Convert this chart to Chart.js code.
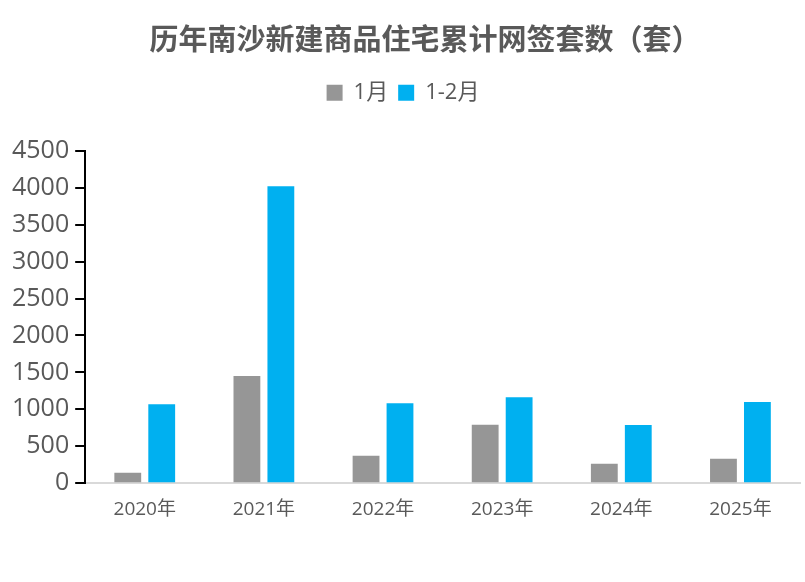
<!DOCTYPE html>
<html>
<head>
<meta charset="utf-8">
<script src="https://cdn.jsdelivr.net/npm/chart.js@4/dist/chart.umd.min.js"></script>
<style>
  html, body { margin: 0; padding: 0; background: #fff; }
  #wrap { width: 805px; height: 582px; position: relative; }
</style>
</head>
<body>
<div id="wrap"><canvas id="chart"></canvas></div>
<script>
// 历年南沙新建商品住宅累计网签套数
const years = ['2020年', '2021年', '2022年', '2023年', '2024年', '2025年'];
const janSales = [140, 1450, 370, 790, 262, 330];
const janFebSales = [1070, 4020, 1082, 1165, 788, 1098];
const yTicks = [0, 500, 1000, 1500, 2000, 2500, 3000, 3500, 4000, 4500];

const font = '"Open Sans", "Noto Sans CJK SC", sans-serif';
const cjkFont = '"Noto Sans CJK SC", sans-serif';
const textColor = '#595959';

// extra room under the legend, title nudged right like the original
const layoutTweaks = {
  id: 'layoutTweaks',
  beforeInit(chart) {
    const fit = chart.legend.fit;
    chart.legend.fit = function () {
      fit.bind(chart.legend)();
      this.height += 37;
    };
  },
  afterLayout(chart) {
    if (chart.titleBlock) {
      chart.titleBlock.left += 22;
      chart.titleBlock.right += 22;
    }
  }
};

const ctx = document.getElementById('chart').getContext('2d');
new Chart(ctx, {
  type: 'bar',
  data: {
    labels: years,
    datasets: [
      { label: '1月', data: janSales, backgroundColor: '#969696' },
      { label: '1-2月', data: janFebSales, backgroundColor: '#00b0f0' }
    ]
  },
  options: {
    responsive: true,
    maintainAspectRatio: false,
    animation: false,
    categoryPercentage: 0.57,
    barPercentage: 0.79,
    layout: { padding: { left: 6, right: 5, top: 22, bottom: 46 } },
    plugins: {
      title: {
        display: true,
        text: '历年南沙新建商品住宅累计网签套数（套）',
        color: textColor,
        font: { family: cjkFont, size: 29, weight: 'bold' },
        padding: { top: 0, bottom: 15 }
      },
      legend: {
        display: true,
        labels: {
          color: textColor,
          font: { family: font, size: 22 },
          boxWidth: 16,
          boxHeight: 16,
          padding: 10
        }
      },
      tooltip: { enabled: false }
    },
    scales: {
      x: {
        grid: { display: false, drawTicks: false },
        border: { color: '#d9d9d9', width: 2 },
        ticks: { color: textColor, font: { family: font, size: 19 }, padding: 15 }
      },
      y: {
        min: 0,
        max: 4500,
        afterBuildTicks: (axis) => { axis.ticks = yTicks.map(v => ({ value: v })); },
        grid: { drawOnChartArea: false, color: '#000', tickLength: 10, lineWidth: 2 },
        border: { color: '#000', width: 2 },
        ticks: {
          color: textColor,
          font: { family: font, size: 25 },
          padding: 6,
          callback: (v) => String(v)
        }
      }
    }
  },
  plugins: [layoutTweaks]
});
</script>
</body>
</html>
